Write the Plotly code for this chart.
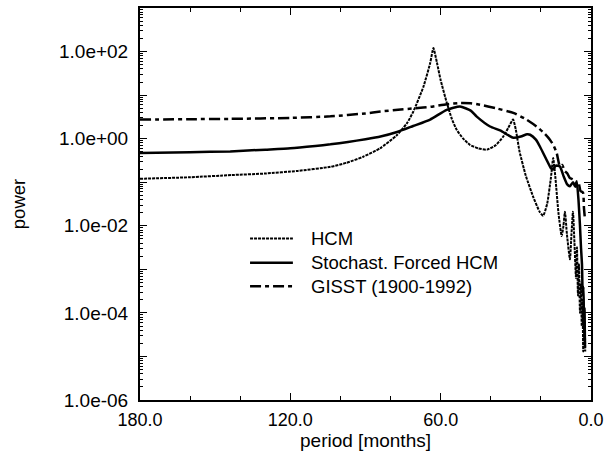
import plotly.graph_objects as go

# ---- data ----
hcm_period = [180, 160, 143.6, 130.3, 117, 104, 97.5, 90.9, 84.2, 77.5, 73.5, 70.9, 66.9, 64.2, 62.9,
              61.5, 60, 57.6, 55.5, 53.6, 51, 48.3, 45, 41.5, 38, 35, 33, 31.1, 30, 28.5,
              26, 23, 20.5, 19.1, 17.5, 16, 15.1, 14.2, 13, 11.7, 11, 10.4, 9.6, 8.4, 7.8,
              7.2, 6.6, 6.0, 5.6, 5.2, 4.8, 4.4, 4.0, 3.7, 3.4, 3.1, 2.9, 2.7, 2.5, 2.3]
hcm_power = [0.12, 0.13, 0.146, 0.158, 0.182, 0.226, 0.28, 0.385, 0.60, 1.2, 2.24, 4.2, 15.5, 54, 120,
             56, 22, 6.8, 2.8, 1.6, 1.0, 0.72, 0.60, 0.56, 0.71, 1.12, 1.78, 2.75, 1.6, 0.50,
             0.14, 0.045, 0.021, 0.017, 0.032, 0.126, 0.36, 0.126, 0.020, 0.0058, 0.010, 0.021, 0.0063, 0.0017, 0.0063,
             0.021, 0.0040, 0.00063, 0.0032, 0.00025, 0.0013, 0.0001, 0.0005, 5e-5, 2e-4, 1.3e-5, 1e-4, 2.5e-5, 6.3e-5, 1.3e-5]

sf_period = [180, 160, 144, 130, 120, 110, 104, 97, 90, 84, 77.4, 71, 64.2, 57.6, 52.3, 48, 45.6, 40.3, 36.3, 33,
             31, 28, 25.5, 24.3, 22, 20.4, 18, 16, 15.2, 14, 12.4, 11, 9.5, 8.4, 7.2, 6.3,
             5.7, 5.0, 4.4, 4.0, 3.6, 3.3, 3.0, 2.8, 2.6, 2.4]
sf_power = [0.47, 0.49, 0.51, 0.56, 0.60, 0.68, 0.74, 0.84, 0.97, 1.12, 1.42, 1.95, 2.75, 4.6, 5.5, 4.4, 3.2, 1.9, 1.55, 1.2,
            1.05, 1.12, 1.26, 1.23, 0.95, 0.66, 0.35, 0.21, 0.195, 0.24, 0.23, 0.14, 0.089, 0.081, 0.10, 0.079,
            0.105, 0.040, 0.010, 0.0032, 0.0013, 0.00025, 0.0004, 6.3e-5, 1.3e-4, 1.6e-5]

gisst_period = [180, 160, 144, 120, 104, 90, 84, 77, 70, 64, 57.6, 52, 48, 44.3, 38, 31, 26, 21.7, 18.5,
                16.4, 15, 13.7, 12.4, 11.5, 10.5, 9.5, 8.5, 7.2, 6.0, 5.0, 4.2, 3.2, 2.8, 2.4]
gisst_power = [2.75, 2.8, 2.85, 3.0, 3.25, 3.8, 4.2, 4.6, 5.0, 5.4, 6.2, 6.6, 6.5, 6.0, 5.0, 3.9, 2.8, 1.9, 1.3,
               0.95, 0.71, 0.47, 0.23, 0.25, 0.18, 0.16, 0.126, 0.115, 0.089, 0.10, 0.063, 0.058, 0.025, 0.014]

series_names = ["HCM", "Stochast. Forced HCM", "GISST (1900-1992)"]

x_tickvals = [180, 120, 60, 0]
x_ticktext = ["180.0", "120.0", "60.0", "0.0"]
y_exponents = list(range(-6, 4))
y_ticktext = [("1.0e%+03d" % e) if e % 2 == 0 and e <= 2 else "" for e in y_exponents]

FONT = "Liberation Sans, Arial, Helvetica, sans-serif"
DOT = dict(color="black", width=2, dash="3px,1px")
SOLID = dict(color="black", width=2.5)
DASHDOT = dict(color="black", width=2.5, dash="11px,4px,4px,4px")

fig = go.Figure()
fig.add_trace(go.Scatter(x=hcm_period, y=hcm_power, mode="lines", name=series_names[0],
                         line=dict(**DOT, shape="spline", smoothing=0.5)))
fig.add_trace(go.Scatter(x=sf_period, y=sf_power, mode="lines", name=series_names[1],
                         line=dict(**SOLID, shape="spline", smoothing=0.5)))
fig.add_trace(go.Scatter(x=gisst_period, y=gisst_power, mode="lines", name=series_names[2],
                         line=dict(**DASHDOT, shape="spline", smoothing=0.5)))

# manual legend (line samples + labels)
legend_rows = [0.412, 0.350, 0.290]
for name, yy, st in zip(series_names, legend_rows, [DOT, SOLID, DASHDOT]):
    fig.add_shape(type="line", xref="paper", yref="paper", x0=0.244, x1=0.339, y0=yy, y1=yy,
                  line=st)
    fig.add_annotation(xref="paper", yref="paper", x=0.375, y=yy, text=name, showarrow=False,
                       xanchor="left", yanchor="middle", font=dict(family=FONT, size=18.5, color="black"))

minor_y = [m * 10.0 ** e for e in range(-6, 3) for m in range(2, 10)]

fig.update_layout(
    template="none",
    width=604, height=455,
    margin=dict(l=140, r=13, t=8, b=55, autoexpand=False),
    paper_bgcolor="white", plot_bgcolor="white",
    showlegend=False,
    font=dict(family=FONT, size=18, color="black"),
    xaxis=dict(range=[180, 0], tickvals=x_tickvals, ticktext=x_ticktext,
               automargin=False,
               tickfont=dict(size=18),
               ticks="inside", ticklen=7, tickwidth=1, tickcolor="black",
               showline=True, linewidth=2, linecolor="black", mirror="ticks",
               showgrid=False, zeroline=False,
               minor=dict(dtick=20, ticks="inside", ticklen=4, tickcolor="black", showgrid=False),
               title=dict(text="period [months]", standoff=0, font=dict(size=19)),
               ticklabelstandoff=2),
    yaxis=dict(type="log", range=[-6, 3],
               automargin=False,
               tickvals=[10.0 ** e for e in y_exponents], ticktext=y_ticktext,
               tickfont=dict(size=19),
               ticks="inside", ticklen=7, tickwidth=1, tickcolor="black",
               showline=True, linewidth=2, linecolor="black", mirror="ticks",
               showgrid=False, zeroline=False,
               minor=dict(tickvals=minor_y, ticks="inside", ticklen=3, tickcolor="black", showgrid=False),
               title=dict(text="power", standoff=29, font=dict(size=18.5)),
               ticklabelstandoff=6),
)

fig.write_html("out.html")
